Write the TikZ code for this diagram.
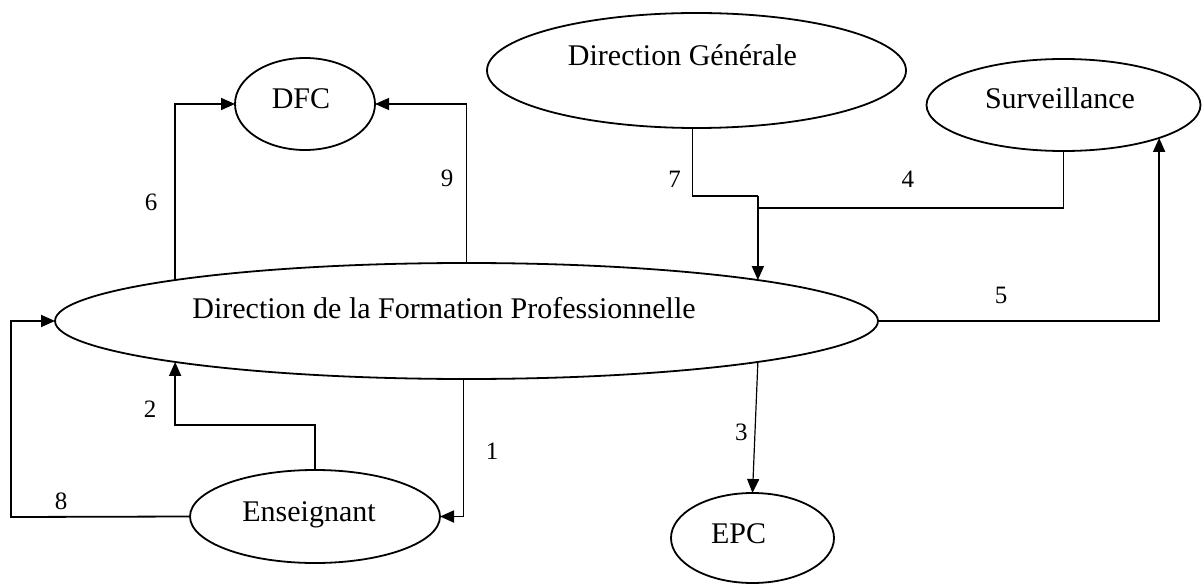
\documentclass[tikz,border=0pt]{standalone}
\usepackage{fontspec}
\setmainfont{Liberation Serif}
\usetikzlibrary{shapes.geometric,arrows.meta}
\begin{document}
\begin{tikzpicture}[x=1pt,y=-1pt,
  oval/.style={ellipse, draw, line width=1.8pt, inner sep=0pt, outer sep=0pt},
  lbl/.style={anchor=base, inner sep=0pt, font=\fontsize{30}{30}\selectfont},
  num/.style={anchor=base, inner sep=0pt, font=\fontsize{25}{25}\selectfont},
  link/.style={line width=1.8pt},
  thinlink/.style={line width=1.2pt},
  tip/.style={-{Triangle[length=14pt,width=12pt]}}
]
\useasboundingbox (0,0) rectangle (1204,585);

% entities
\node[oval, minimum width=140pt, minimum height=92pt]  (dfc)  at (305,104) {};
\node[oval, minimum width=419pt, minimum height=115pt] (dg)   at (696.5,70.5) {};
\node[oval, minimum width=274pt, minimum height=92pt]  (surv) at (1063.5,105) {};
\node[oval, minimum width=823pt, minimum height=116pt] (dfp)  at (466.5,321) {};
\node[oval, minimum width=250pt, minimum height=93pt]  (ens)  at (315,516.5) {};
\node[oval, minimum width=163pt, minimum height=90pt]  (epc)  at (752.5,538) {};

% entity names
\node[lbl] (dfctxt)  at (301,109)   {DFC};
\node[lbl] (dgtxt)   at (682.5,66)  {Direction Générale};
\node[lbl] (survtxt) at (1060,109)  {Surveillance};
\node[lbl] (dfptxt)  at (444,318)   {Direction de la Formation Professionnelle};
\node[lbl] (enstxt)  at (309,521)   {Enseignant};
\node[lbl] (epctxt)  at (738.5,543) {EPC};

% heights of the horizontal runs
\coordinate (j7) at (755,196);
\coordinate (j4) at (755,208);
\coordinate (j2) at (174,425);
\coordinate (j8) at (11,517);

% flows
\draw[link,tip] (dfp.172) |- (dfc.west);
\draw[thinlink,tip] (dfp.north) |- (dfc.east);
\draw[thinlink] (dg.266) |- (dfp.8 |- j7);
\draw[link,tip] (dfp.8 |- j7) -- (dfp.8);
\draw[link] (surv.south) |- (dfp.8 |- j4);
\draw[link,tip] (dfp.east) -| (surv.341);
\draw[thinlink,tip] (dfp.352) -- (epc.north);
\draw[link,tip] (dfp.267) |- (ens.east);
\draw[link,tip] (ens.north) |- (dfp.188 |- j2) -- (dfp.188);
\draw[link,tip] (ens.west) -- (j8) |- (dfp.west);

% flow numbers
\node[num] (n1) at (492,459) {1};
\node[num] (n2) at (150,417) {2};
\node[num] (n3) at (741.3,440) {3};
\node[num] (n4) at (907.8,188) {4};
\node[num] (n5) at (1001,303) {5};
\node[num] (n6) at (151,211) {6};
\node[num] (n7) at (674.5,188) {7};
\node[num] (n8) at (61,509) {8};
\node[num] (n9) at (447,187) {9};
\end{tikzpicture}
\end{document}
